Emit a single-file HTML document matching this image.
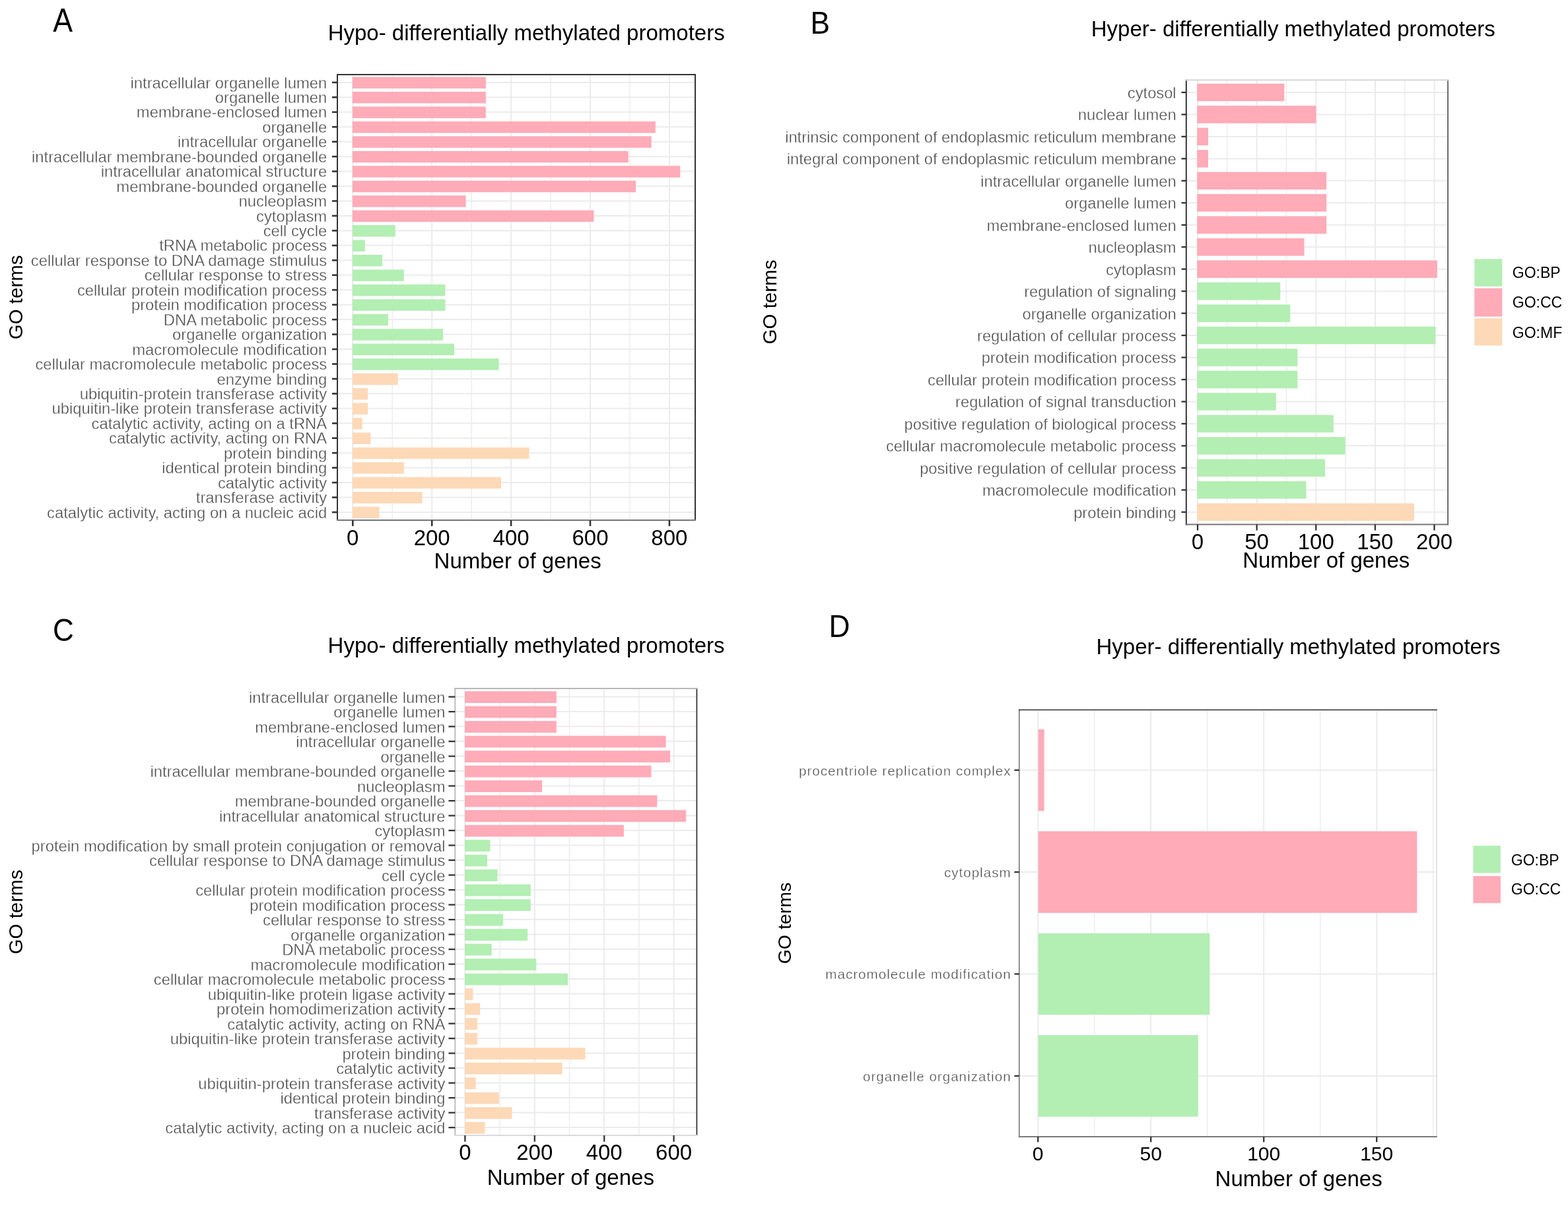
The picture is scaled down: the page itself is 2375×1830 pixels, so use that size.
<!DOCTYPE html>
<html><head><meta charset="utf-8"><title>GO enrichment of differentially methylated promoters</title>
<style>
html,body{margin:0;padding:0;background:#fff;}
svg{display:block;}
text{font-family:"Liberation Sans", Arial, Helvetica, sans-serif;}
text.l{stroke:#fff;stroke-width:0.35;stroke-linejoin:round;}
</style></head>
<body>
<svg width="2375" height="1830" viewBox="0 0 2375 1830">
<rect x="0" y="0" width="2375" height="1830" fill="#ffffff"/>
<g>
<line x1="594.25" y1="113.00" x2="594.25" y2="788.10" stroke="#EEEEEE" stroke-width="1.6"/>
<line x1="714.15" y1="113.00" x2="714.15" y2="788.10" stroke="#EEEEEE" stroke-width="1.6"/>
<line x1="834.05" y1="113.00" x2="834.05" y2="788.10" stroke="#EEEEEE" stroke-width="1.6"/>
<line x1="953.95" y1="113.00" x2="953.95" y2="788.10" stroke="#EEEEEE" stroke-width="1.6"/>
<line x1="534.30" y1="113.00" x2="534.30" y2="788.10" stroke="#EBEBEB" stroke-width="2"/>
<line x1="654.20" y1="113.00" x2="654.20" y2="788.10" stroke="#EBEBEB" stroke-width="2"/>
<line x1="774.10" y1="113.00" x2="774.10" y2="788.10" stroke="#EBEBEB" stroke-width="2"/>
<line x1="894.00" y1="113.00" x2="894.00" y2="788.10" stroke="#EBEBEB" stroke-width="2"/>
<line x1="1013.90" y1="113.00" x2="1013.90" y2="788.10" stroke="#EBEBEB" stroke-width="2"/>
<line x1="511.00" y1="124.90" x2="1053.00" y2="124.90" stroke="#EBEBEB" stroke-width="2"/>
<line x1="511.00" y1="147.35" x2="1053.00" y2="147.35" stroke="#EBEBEB" stroke-width="2"/>
<line x1="511.00" y1="169.80" x2="1053.00" y2="169.80" stroke="#EBEBEB" stroke-width="2"/>
<line x1="511.00" y1="192.25" x2="1053.00" y2="192.25" stroke="#EBEBEB" stroke-width="2"/>
<line x1="511.00" y1="214.70" x2="1053.00" y2="214.70" stroke="#EBEBEB" stroke-width="2"/>
<line x1="511.00" y1="237.15" x2="1053.00" y2="237.15" stroke="#EBEBEB" stroke-width="2"/>
<line x1="511.00" y1="259.60" x2="1053.00" y2="259.60" stroke="#EBEBEB" stroke-width="2"/>
<line x1="511.00" y1="282.05" x2="1053.00" y2="282.05" stroke="#EBEBEB" stroke-width="2"/>
<line x1="511.00" y1="304.50" x2="1053.00" y2="304.50" stroke="#EBEBEB" stroke-width="2"/>
<line x1="511.00" y1="326.95" x2="1053.00" y2="326.95" stroke="#EBEBEB" stroke-width="2"/>
<line x1="511.00" y1="349.40" x2="1053.00" y2="349.40" stroke="#EBEBEB" stroke-width="2"/>
<line x1="511.00" y1="371.85" x2="1053.00" y2="371.85" stroke="#EBEBEB" stroke-width="2"/>
<line x1="511.00" y1="394.30" x2="1053.00" y2="394.30" stroke="#EBEBEB" stroke-width="2"/>
<line x1="511.00" y1="416.75" x2="1053.00" y2="416.75" stroke="#EBEBEB" stroke-width="2"/>
<line x1="511.00" y1="439.20" x2="1053.00" y2="439.20" stroke="#EBEBEB" stroke-width="2"/>
<line x1="511.00" y1="461.65" x2="1053.00" y2="461.65" stroke="#EBEBEB" stroke-width="2"/>
<line x1="511.00" y1="484.10" x2="1053.00" y2="484.10" stroke="#EBEBEB" stroke-width="2"/>
<line x1="511.00" y1="506.55" x2="1053.00" y2="506.55" stroke="#EBEBEB" stroke-width="2"/>
<line x1="511.00" y1="529.00" x2="1053.00" y2="529.00" stroke="#EBEBEB" stroke-width="2"/>
<line x1="511.00" y1="551.45" x2="1053.00" y2="551.45" stroke="#EBEBEB" stroke-width="2"/>
<line x1="511.00" y1="573.90" x2="1053.00" y2="573.90" stroke="#EBEBEB" stroke-width="2"/>
<line x1="511.00" y1="596.35" x2="1053.00" y2="596.35" stroke="#EBEBEB" stroke-width="2"/>
<line x1="511.00" y1="618.80" x2="1053.00" y2="618.80" stroke="#EBEBEB" stroke-width="2"/>
<line x1="511.00" y1="641.25" x2="1053.00" y2="641.25" stroke="#EBEBEB" stroke-width="2"/>
<line x1="511.00" y1="663.70" x2="1053.00" y2="663.70" stroke="#EBEBEB" stroke-width="2"/>
<line x1="511.00" y1="686.15" x2="1053.00" y2="686.15" stroke="#EBEBEB" stroke-width="2"/>
<line x1="511.00" y1="708.60" x2="1053.00" y2="708.60" stroke="#EBEBEB" stroke-width="2"/>
<line x1="511.00" y1="731.05" x2="1053.00" y2="731.05" stroke="#EBEBEB" stroke-width="2"/>
<line x1="511.00" y1="753.50" x2="1053.00" y2="753.50" stroke="#EBEBEB" stroke-width="2"/>
<line x1="511.00" y1="775.95" x2="1053.00" y2="775.95" stroke="#EBEBEB" stroke-width="2"/>
<rect x="533.80" y="116.55" width="202.10" height="17.50" fill="#FFABB8"/>
<rect x="533.80" y="139.00" width="202.10" height="17.50" fill="#FFABB8"/>
<rect x="533.80" y="161.45" width="202.10" height="17.50" fill="#FFABB8"/>
<rect x="533.80" y="183.90" width="459.00" height="17.50" fill="#FFABB8"/>
<rect x="533.80" y="206.35" width="452.90" height="17.50" fill="#FFABB8"/>
<rect x="533.80" y="228.80" width="418.00" height="17.50" fill="#FFABB8"/>
<rect x="533.80" y="251.25" width="496.50" height="17.50" fill="#FFABB8"/>
<rect x="533.80" y="273.70" width="429.30" height="17.50" fill="#FFABB8"/>
<rect x="533.80" y="296.15" width="171.80" height="17.50" fill="#FFABB8"/>
<rect x="533.80" y="318.60" width="365.70" height="17.50" fill="#FFABB8"/>
<rect x="533.80" y="341.05" width="64.90" height="17.50" fill="#B3EEB3"/>
<rect x="533.80" y="363.50" width="19.00" height="17.50" fill="#B3EEB3"/>
<rect x="533.80" y="385.95" width="45.40" height="17.50" fill="#B3EEB3"/>
<rect x="533.80" y="408.40" width="78.00" height="17.50" fill="#B3EEB3"/>
<rect x="533.80" y="430.85" width="140.60" height="17.50" fill="#B3EEB3"/>
<rect x="533.80" y="453.30" width="140.60" height="17.50" fill="#B3EEB3"/>
<rect x="533.80" y="475.75" width="54.20" height="17.50" fill="#B3EEB3"/>
<rect x="533.80" y="498.20" width="137.20" height="17.50" fill="#B3EEB3"/>
<rect x="533.80" y="520.65" width="154.20" height="17.50" fill="#B3EEB3"/>
<rect x="533.80" y="543.10" width="221.80" height="17.50" fill="#B3EEB3"/>
<rect x="533.80" y="565.55" width="69.00" height="17.50" fill="#FDD9B8"/>
<rect x="533.80" y="588.00" width="23.40" height="17.50" fill="#FDD9B8"/>
<rect x="533.80" y="610.45" width="23.40" height="17.50" fill="#FDD9B8"/>
<rect x="533.80" y="632.90" width="14.90" height="17.50" fill="#FDD9B8"/>
<rect x="533.80" y="655.35" width="27.70" height="17.50" fill="#FDD9B8"/>
<rect x="533.80" y="677.80" width="267.70" height="17.50" fill="#FDD9B8"/>
<rect x="533.80" y="700.25" width="78.00" height="17.50" fill="#FDD9B8"/>
<rect x="533.80" y="722.70" width="225.20" height="17.50" fill="#FDD9B8"/>
<rect x="533.80" y="745.15" width="105.70" height="17.50" fill="#FDD9B8"/>
<rect x="533.80" y="767.60" width="40.80" height="17.50" fill="#FDD9B8"/>
<line x1="511.00" y1="112.00" x2="511.00" y2="789.10" stroke="#333333" stroke-width="2"/>
<line x1="1053.00" y1="112.00" x2="1053.00" y2="789.10" stroke="#333333" stroke-width="2"/>
<line x1="510.00" y1="113.00" x2="1054.00" y2="113.00" stroke="#333333" stroke-width="2"/>
<line x1="510.00" y1="788.10" x2="1054.00" y2="788.10" stroke="#777777" stroke-width="2"/>
<line x1="503.00" y1="124.90" x2="511.00" y2="124.90" stroke="#333333" stroke-width="2.6"/>
<text x="495.20" y="133.50" font-size="23.8" fill="#4D4D4D" text-anchor="end" class="l">intracellular organelle lumen</text>
<line x1="503.00" y1="147.35" x2="511.00" y2="147.35" stroke="#333333" stroke-width="2.6"/>
<text x="495.20" y="155.95" font-size="23.8" fill="#4D4D4D" text-anchor="end" class="l">organelle lumen</text>
<line x1="503.00" y1="169.80" x2="511.00" y2="169.80" stroke="#333333" stroke-width="2.6"/>
<text x="495.20" y="178.40" font-size="23.8" fill="#4D4D4D" text-anchor="end" class="l">membrane-enclosed lumen</text>
<line x1="503.00" y1="192.25" x2="511.00" y2="192.25" stroke="#333333" stroke-width="2.6"/>
<text x="495.20" y="200.85" font-size="23.8" fill="#4D4D4D" text-anchor="end" class="l">organelle</text>
<line x1="503.00" y1="214.70" x2="511.00" y2="214.70" stroke="#333333" stroke-width="2.6"/>
<text x="495.20" y="223.30" font-size="23.8" fill="#4D4D4D" text-anchor="end" class="l">intracellular organelle</text>
<line x1="503.00" y1="237.15" x2="511.00" y2="237.15" stroke="#333333" stroke-width="2.6"/>
<text x="495.20" y="245.75" font-size="23.8" fill="#4D4D4D" text-anchor="end" class="l">intracellular membrane-bounded organelle</text>
<line x1="503.00" y1="259.60" x2="511.00" y2="259.60" stroke="#333333" stroke-width="2.6"/>
<text x="495.20" y="268.20" font-size="23.8" fill="#4D4D4D" text-anchor="end" class="l">intracellular anatomical structure</text>
<line x1="503.00" y1="282.05" x2="511.00" y2="282.05" stroke="#333333" stroke-width="2.6"/>
<text x="495.20" y="290.65" font-size="23.8" fill="#4D4D4D" text-anchor="end" class="l">membrane-bounded organelle</text>
<line x1="503.00" y1="304.50" x2="511.00" y2="304.50" stroke="#333333" stroke-width="2.6"/>
<text x="495.20" y="313.10" font-size="23.8" fill="#4D4D4D" text-anchor="end" class="l">nucleoplasm</text>
<line x1="503.00" y1="326.95" x2="511.00" y2="326.95" stroke="#333333" stroke-width="2.6"/>
<text x="495.20" y="335.55" font-size="23.8" fill="#4D4D4D" text-anchor="end" class="l">cytoplasm</text>
<line x1="503.00" y1="349.40" x2="511.00" y2="349.40" stroke="#333333" stroke-width="2.6"/>
<text x="495.20" y="358.00" font-size="23.8" fill="#4D4D4D" text-anchor="end" class="l">cell cycle</text>
<line x1="503.00" y1="371.85" x2="511.00" y2="371.85" stroke="#333333" stroke-width="2.6"/>
<text x="495.20" y="380.45" font-size="23.8" fill="#4D4D4D" text-anchor="end" class="l">tRNA metabolic process</text>
<line x1="503.00" y1="394.30" x2="511.00" y2="394.30" stroke="#333333" stroke-width="2.6"/>
<text x="495.20" y="402.90" font-size="23.8" fill="#4D4D4D" text-anchor="end" class="l">cellular response to DNA damage stimulus</text>
<line x1="503.00" y1="416.75" x2="511.00" y2="416.75" stroke="#333333" stroke-width="2.6"/>
<text x="495.20" y="425.35" font-size="23.8" fill="#4D4D4D" text-anchor="end" class="l">cellular response to stress</text>
<line x1="503.00" y1="439.20" x2="511.00" y2="439.20" stroke="#333333" stroke-width="2.6"/>
<text x="495.20" y="447.80" font-size="23.8" fill="#4D4D4D" text-anchor="end" class="l">cellular protein modification process</text>
<line x1="503.00" y1="461.65" x2="511.00" y2="461.65" stroke="#333333" stroke-width="2.6"/>
<text x="495.20" y="470.25" font-size="23.8" fill="#4D4D4D" text-anchor="end" class="l">protein modification process</text>
<line x1="503.00" y1="484.10" x2="511.00" y2="484.10" stroke="#333333" stroke-width="2.6"/>
<text x="495.20" y="492.70" font-size="23.8" fill="#4D4D4D" text-anchor="end" class="l">DNA metabolic process</text>
<line x1="503.00" y1="506.55" x2="511.00" y2="506.55" stroke="#333333" stroke-width="2.6"/>
<text x="495.20" y="515.15" font-size="23.8" fill="#4D4D4D" text-anchor="end" class="l">organelle organization</text>
<line x1="503.00" y1="529.00" x2="511.00" y2="529.00" stroke="#333333" stroke-width="2.6"/>
<text x="495.20" y="537.60" font-size="23.8" fill="#4D4D4D" text-anchor="end" class="l">macromolecule modification</text>
<line x1="503.00" y1="551.45" x2="511.00" y2="551.45" stroke="#333333" stroke-width="2.6"/>
<text x="495.20" y="560.05" font-size="23.8" fill="#4D4D4D" text-anchor="end" class="l">cellular macromolecule metabolic process</text>
<line x1="503.00" y1="573.90" x2="511.00" y2="573.90" stroke="#333333" stroke-width="2.6"/>
<text x="495.20" y="582.50" font-size="23.8" fill="#4D4D4D" text-anchor="end" class="l">enzyme binding</text>
<line x1="503.00" y1="596.35" x2="511.00" y2="596.35" stroke="#333333" stroke-width="2.6"/>
<text x="495.20" y="604.95" font-size="23.8" fill="#4D4D4D" text-anchor="end" class="l">ubiquitin-protein transferase activity</text>
<line x1="503.00" y1="618.80" x2="511.00" y2="618.80" stroke="#333333" stroke-width="2.6"/>
<text x="495.20" y="627.40" font-size="23.8" fill="#4D4D4D" text-anchor="end" class="l">ubiquitin-like protein transferase activity</text>
<line x1="503.00" y1="641.25" x2="511.00" y2="641.25" stroke="#333333" stroke-width="2.6"/>
<text x="495.20" y="649.85" font-size="23.8" fill="#4D4D4D" text-anchor="end" class="l">catalytic activity, acting on a tRNA</text>
<line x1="503.00" y1="663.70" x2="511.00" y2="663.70" stroke="#333333" stroke-width="2.6"/>
<text x="495.20" y="672.30" font-size="23.8" fill="#4D4D4D" text-anchor="end" class="l">catalytic activity, acting on RNA</text>
<line x1="503.00" y1="686.15" x2="511.00" y2="686.15" stroke="#333333" stroke-width="2.6"/>
<text x="495.20" y="694.75" font-size="23.8" fill="#4D4D4D" text-anchor="end" class="l">protein binding</text>
<line x1="503.00" y1="708.60" x2="511.00" y2="708.60" stroke="#333333" stroke-width="2.6"/>
<text x="495.20" y="717.20" font-size="23.8" fill="#4D4D4D" text-anchor="end" class="l">identical protein binding</text>
<line x1="503.00" y1="731.05" x2="511.00" y2="731.05" stroke="#333333" stroke-width="2.6"/>
<text x="495.20" y="739.65" font-size="23.8" fill="#4D4D4D" text-anchor="end" class="l">catalytic activity</text>
<line x1="503.00" y1="753.50" x2="511.00" y2="753.50" stroke="#333333" stroke-width="2.6"/>
<text x="495.20" y="762.10" font-size="23.8" fill="#4D4D4D" text-anchor="end" class="l">transferase activity</text>
<line x1="503.00" y1="775.95" x2="511.00" y2="775.95" stroke="#333333" stroke-width="2.6"/>
<text x="495.20" y="784.55" font-size="23.8" fill="#4D4D4D" text-anchor="end" class="l">catalytic activity, acting on a nucleic acid</text>
<line x1="534.30" y1="788.10" x2="534.30" y2="797.00" stroke="#333333" stroke-width="2.6"/>
<text x="534.30" y="825.50" font-size="33" fill="#000" text-anchor="middle">0</text>
<line x1="654.20" y1="788.10" x2="654.20" y2="797.00" stroke="#333333" stroke-width="2.6"/>
<text x="654.20" y="825.50" font-size="33" fill="#000" text-anchor="middle">200</text>
<line x1="774.10" y1="788.10" x2="774.10" y2="797.00" stroke="#333333" stroke-width="2.6"/>
<text x="774.10" y="825.50" font-size="33" fill="#000" text-anchor="middle">400</text>
<line x1="894.00" y1="788.10" x2="894.00" y2="797.00" stroke="#333333" stroke-width="2.6"/>
<text x="894.00" y="825.50" font-size="33" fill="#000" text-anchor="middle">600</text>
<line x1="1013.90" y1="788.10" x2="1013.90" y2="797.00" stroke="#333333" stroke-width="2.6"/>
<text x="1013.90" y="825.50" font-size="33" fill="#000" text-anchor="middle">800</text>
<text x="657.56" y="860.50" font-size="33" fill="#000" text-anchor="start">Number of genes</text>
<text x="0" y="0" font-size="29.5" fill="#000" text-anchor="middle" transform="translate(33.70,450.30) rotate(-90)">GO terms</text>
<text x="496.66" y="61.20" font-size="33" fill="#000" text-anchor="start">Hypo- differentially methylated promoters</text>
<text x="0" y="0" font-size="50" fill="#000" transform="translate(80.30,48.30) scale(0.895,1)">A</text>
</g>
<g>
<line x1="1858.81" y1="121.20" x2="1858.81" y2="794.60" stroke="#EEEEEE" stroke-width="1.6"/>
<line x1="1948.44" y1="121.20" x2="1948.44" y2="794.60" stroke="#EEEEEE" stroke-width="1.6"/>
<line x1="2038.06" y1="121.20" x2="2038.06" y2="794.60" stroke="#EEEEEE" stroke-width="1.6"/>
<line x1="2127.69" y1="121.20" x2="2127.69" y2="794.60" stroke="#EEEEEE" stroke-width="1.6"/>
<line x1="1814.00" y1="121.20" x2="1814.00" y2="794.60" stroke="#EBEBEB" stroke-width="2"/>
<line x1="1903.62" y1="121.20" x2="1903.62" y2="794.60" stroke="#EBEBEB" stroke-width="2"/>
<line x1="1993.25" y1="121.20" x2="1993.25" y2="794.60" stroke="#EBEBEB" stroke-width="2"/>
<line x1="2082.88" y1="121.20" x2="2082.88" y2="794.60" stroke="#EBEBEB" stroke-width="2"/>
<line x1="2172.50" y1="121.20" x2="2172.50" y2="794.60" stroke="#EBEBEB" stroke-width="2"/>
<line x1="1796.80" y1="140.00" x2="2193.10" y2="140.00" stroke="#EBEBEB" stroke-width="2"/>
<line x1="1796.80" y1="173.46" x2="2193.10" y2="173.46" stroke="#EBEBEB" stroke-width="2"/>
<line x1="1796.80" y1="206.92" x2="2193.10" y2="206.92" stroke="#EBEBEB" stroke-width="2"/>
<line x1="1796.80" y1="240.38" x2="2193.10" y2="240.38" stroke="#EBEBEB" stroke-width="2"/>
<line x1="1796.80" y1="273.84" x2="2193.10" y2="273.84" stroke="#EBEBEB" stroke-width="2"/>
<line x1="1796.80" y1="307.30" x2="2193.10" y2="307.30" stroke="#EBEBEB" stroke-width="2"/>
<line x1="1796.80" y1="340.76" x2="2193.10" y2="340.76" stroke="#EBEBEB" stroke-width="2"/>
<line x1="1796.80" y1="374.22" x2="2193.10" y2="374.22" stroke="#EBEBEB" stroke-width="2"/>
<line x1="1796.80" y1="407.68" x2="2193.10" y2="407.68" stroke="#EBEBEB" stroke-width="2"/>
<line x1="1796.80" y1="441.14" x2="2193.10" y2="441.14" stroke="#EBEBEB" stroke-width="2"/>
<line x1="1796.80" y1="474.60" x2="2193.10" y2="474.60" stroke="#EBEBEB" stroke-width="2"/>
<line x1="1796.80" y1="508.06" x2="2193.10" y2="508.06" stroke="#EBEBEB" stroke-width="2"/>
<line x1="1796.80" y1="541.52" x2="2193.10" y2="541.52" stroke="#EBEBEB" stroke-width="2"/>
<line x1="1796.80" y1="574.98" x2="2193.10" y2="574.98" stroke="#EBEBEB" stroke-width="2"/>
<line x1="1796.80" y1="608.44" x2="2193.10" y2="608.44" stroke="#EBEBEB" stroke-width="2"/>
<line x1="1796.80" y1="641.90" x2="2193.10" y2="641.90" stroke="#EBEBEB" stroke-width="2"/>
<line x1="1796.80" y1="675.36" x2="2193.10" y2="675.36" stroke="#EBEBEB" stroke-width="2"/>
<line x1="1796.80" y1="708.82" x2="2193.10" y2="708.82" stroke="#EBEBEB" stroke-width="2"/>
<line x1="1796.80" y1="742.28" x2="2193.10" y2="742.28" stroke="#EBEBEB" stroke-width="2"/>
<line x1="1796.80" y1="775.74" x2="2193.10" y2="775.74" stroke="#EBEBEB" stroke-width="2"/>
<rect x="1813.20" y="126.70" width="132.10" height="26.60" fill="#FFABB8"/>
<rect x="1813.20" y="160.16" width="180.40" height="26.60" fill="#FFABB8"/>
<rect x="1813.20" y="193.62" width="16.80" height="26.60" fill="#FFABB8"/>
<rect x="1813.20" y="227.08" width="16.80" height="26.60" fill="#FFABB8"/>
<rect x="1813.20" y="260.54" width="195.90" height="26.60" fill="#FFABB8"/>
<rect x="1813.20" y="294.00" width="195.90" height="26.60" fill="#FFABB8"/>
<rect x="1813.20" y="327.46" width="195.90" height="26.60" fill="#FFABB8"/>
<rect x="1813.20" y="360.92" width="162.30" height="26.60" fill="#FFABB8"/>
<rect x="1813.20" y="394.38" width="363.70" height="26.60" fill="#FFABB8"/>
<rect x="1813.20" y="427.84" width="126.00" height="26.60" fill="#B3EEB3"/>
<rect x="1813.20" y="461.30" width="141.10" height="26.60" fill="#B3EEB3"/>
<rect x="1813.20" y="494.76" width="361.30" height="26.60" fill="#B3EEB3"/>
<rect x="1813.20" y="528.22" width="152.20" height="26.60" fill="#B3EEB3"/>
<rect x="1813.20" y="561.68" width="152.20" height="26.60" fill="#B3EEB3"/>
<rect x="1813.20" y="595.14" width="119.60" height="26.60" fill="#B3EEB3"/>
<rect x="1813.20" y="628.60" width="206.60" height="26.60" fill="#B3EEB3"/>
<rect x="1813.20" y="662.06" width="224.30" height="26.60" fill="#B3EEB3"/>
<rect x="1813.20" y="695.52" width="193.70" height="26.60" fill="#B3EEB3"/>
<rect x="1813.20" y="728.98" width="165.30" height="26.60" fill="#B3EEB3"/>
<rect x="1813.20" y="762.44" width="328.70" height="26.60" fill="#FDD9B8"/>
<line x1="1796.80" y1="120.20" x2="1796.80" y2="795.60" stroke="#333333" stroke-width="2"/>
<line x1="2193.10" y1="120.20" x2="2193.10" y2="795.60" stroke="#6A6A6A" stroke-width="2"/>
<line x1="1795.80" y1="121.20" x2="2194.10" y2="121.20" stroke="#D6D6D6" stroke-width="2"/>
<line x1="1795.80" y1="794.60" x2="2194.10" y2="794.60" stroke="#777777" stroke-width="2"/>
<line x1="1789.50" y1="140.00" x2="1796.80" y2="140.00" stroke="#333333" stroke-width="2.3"/>
<text x="1781.60" y="148.90" font-size="23.7" fill="#4D4D4D" text-anchor="end" class="l">cytosol</text>
<line x1="1789.50" y1="173.46" x2="1796.80" y2="173.46" stroke="#333333" stroke-width="2.3"/>
<text x="1781.60" y="182.36" font-size="23.7" fill="#4D4D4D" text-anchor="end" class="l">nuclear lumen</text>
<line x1="1789.50" y1="206.92" x2="1796.80" y2="206.92" stroke="#333333" stroke-width="2.3"/>
<text x="1781.60" y="215.82" font-size="23.7" fill="#4D4D4D" text-anchor="end" class="l">intrinsic component of endoplasmic reticulum membrane</text>
<line x1="1789.50" y1="240.38" x2="1796.80" y2="240.38" stroke="#333333" stroke-width="2.3"/>
<text x="1781.60" y="249.28" font-size="23.7" fill="#4D4D4D" text-anchor="end" class="l">integral component of endoplasmic reticulum membrane</text>
<line x1="1789.50" y1="273.84" x2="1796.80" y2="273.84" stroke="#333333" stroke-width="2.3"/>
<text x="1781.60" y="282.74" font-size="23.7" fill="#4D4D4D" text-anchor="end" class="l">intracellular organelle lumen</text>
<line x1="1789.50" y1="307.30" x2="1796.80" y2="307.30" stroke="#333333" stroke-width="2.3"/>
<text x="1781.60" y="316.20" font-size="23.7" fill="#4D4D4D" text-anchor="end" class="l">organelle lumen</text>
<line x1="1789.50" y1="340.76" x2="1796.80" y2="340.76" stroke="#333333" stroke-width="2.3"/>
<text x="1781.60" y="349.66" font-size="23.7" fill="#4D4D4D" text-anchor="end" class="l">membrane-enclosed lumen</text>
<line x1="1789.50" y1="374.22" x2="1796.80" y2="374.22" stroke="#333333" stroke-width="2.3"/>
<text x="1781.60" y="383.12" font-size="23.7" fill="#4D4D4D" text-anchor="end" class="l">nucleoplasm</text>
<line x1="1789.50" y1="407.68" x2="1796.80" y2="407.68" stroke="#333333" stroke-width="2.3"/>
<text x="1781.60" y="416.58" font-size="23.7" fill="#4D4D4D" text-anchor="end" class="l">cytoplasm</text>
<line x1="1789.50" y1="441.14" x2="1796.80" y2="441.14" stroke="#333333" stroke-width="2.3"/>
<text x="1781.60" y="450.04" font-size="23.7" fill="#4D4D4D" text-anchor="end" class="l">regulation of signaling</text>
<line x1="1789.50" y1="474.60" x2="1796.80" y2="474.60" stroke="#333333" stroke-width="2.3"/>
<text x="1781.60" y="483.50" font-size="23.7" fill="#4D4D4D" text-anchor="end" class="l">organelle organization</text>
<line x1="1789.50" y1="508.06" x2="1796.80" y2="508.06" stroke="#333333" stroke-width="2.3"/>
<text x="1781.60" y="516.96" font-size="23.7" fill="#4D4D4D" text-anchor="end" class="l">regulation of cellular process</text>
<line x1="1789.50" y1="541.52" x2="1796.80" y2="541.52" stroke="#333333" stroke-width="2.3"/>
<text x="1781.60" y="550.42" font-size="23.7" fill="#4D4D4D" text-anchor="end" class="l">protein modification process</text>
<line x1="1789.50" y1="574.98" x2="1796.80" y2="574.98" stroke="#333333" stroke-width="2.3"/>
<text x="1781.60" y="583.88" font-size="23.7" fill="#4D4D4D" text-anchor="end" class="l">cellular protein modification process</text>
<line x1="1789.50" y1="608.44" x2="1796.80" y2="608.44" stroke="#333333" stroke-width="2.3"/>
<text x="1781.60" y="617.34" font-size="23.7" fill="#4D4D4D" text-anchor="end" class="l">regulation of signal transduction</text>
<line x1="1789.50" y1="641.90" x2="1796.80" y2="641.90" stroke="#333333" stroke-width="2.3"/>
<text x="1781.60" y="650.80" font-size="23.7" fill="#4D4D4D" text-anchor="end" class="l">positive regulation of biological process</text>
<line x1="1789.50" y1="675.36" x2="1796.80" y2="675.36" stroke="#333333" stroke-width="2.3"/>
<text x="1781.60" y="684.26" font-size="23.7" fill="#4D4D4D" text-anchor="end" class="l">cellular macromolecule metabolic process</text>
<line x1="1789.50" y1="708.82" x2="1796.80" y2="708.82" stroke="#333333" stroke-width="2.3"/>
<text x="1781.60" y="717.72" font-size="23.7" fill="#4D4D4D" text-anchor="end" class="l">positive regulation of cellular process</text>
<line x1="1789.50" y1="742.28" x2="1796.80" y2="742.28" stroke="#333333" stroke-width="2.3"/>
<text x="1781.60" y="751.18" font-size="23.7" fill="#4D4D4D" text-anchor="end" class="l">macromolecule modification</text>
<line x1="1789.50" y1="775.74" x2="1796.80" y2="775.74" stroke="#333333" stroke-width="2.3"/>
<text x="1781.60" y="784.64" font-size="23.7" fill="#4D4D4D" text-anchor="end" class="l">protein binding</text>
<line x1="1814.00" y1="794.60" x2="1814.00" y2="803.50" stroke="#333333" stroke-width="2.3"/>
<text x="1814.00" y="832.00" font-size="33" fill="#000" text-anchor="middle">0</text>
<line x1="1903.62" y1="794.60" x2="1903.62" y2="803.50" stroke="#333333" stroke-width="2.3"/>
<text x="1903.62" y="832.00" font-size="33" fill="#000" text-anchor="middle">50</text>
<line x1="1993.25" y1="794.60" x2="1993.25" y2="803.50" stroke="#333333" stroke-width="2.3"/>
<text x="1993.25" y="832.00" font-size="33" fill="#000" text-anchor="middle">100</text>
<line x1="2082.88" y1="794.60" x2="2082.88" y2="803.50" stroke="#333333" stroke-width="2.3"/>
<text x="2082.88" y="832.00" font-size="33" fill="#000" text-anchor="middle">150</text>
<line x1="2172.50" y1="794.60" x2="2172.50" y2="803.50" stroke="#333333" stroke-width="2.3"/>
<text x="2172.50" y="832.00" font-size="33" fill="#000" text-anchor="middle">200</text>
<text x="1882.16" y="860.30" font-size="33" fill="#000" text-anchor="start">Number of genes</text>
<text x="0" y="0" font-size="29.5" fill="#000" text-anchor="middle" transform="translate(1176.10,457.50) rotate(-90)">GO terms</text>
<text x="1652.76" y="55.00" font-size="33" fill="#000" text-anchor="start">Hyper- differentially methylated promoters</text>
<text x="0" y="0" font-size="48" fill="#000" transform="translate(1227.57,50.60) scale(0.92,1)">B</text>
<rect x="2233.30" y="392.40" width="42.00" height="41.50" fill="#B3EEB3"/>
<text x="2290.85" y="420.50" font-size="23" fill="#000" text-anchor="start">GO:BP</text>
<rect x="2233.30" y="436.70" width="42.00" height="42.90" fill="#FFABB8"/>
<text x="2290.85" y="466.00" font-size="23" fill="#000" text-anchor="start">GO:CC</text>
<rect x="2233.30" y="482.20" width="42.00" height="41.20" fill="#FDD9B8"/>
<text x="2290.85" y="512.00" font-size="23" fill="#000" text-anchor="start">GO:MF</text>
</g>
<g>
<line x1="757.10" y1="1043.00" x2="757.10" y2="1720.00" stroke="#EEEEEE" stroke-width="1.6"/>
<line x1="862.50" y1="1043.00" x2="862.50" y2="1720.00" stroke="#EEEEEE" stroke-width="1.6"/>
<line x1="967.90" y1="1043.00" x2="967.90" y2="1720.00" stroke="#EEEEEE" stroke-width="1.6"/>
<line x1="704.40" y1="1043.00" x2="704.40" y2="1720.00" stroke="#EBEBEB" stroke-width="2"/>
<line x1="809.80" y1="1043.00" x2="809.80" y2="1720.00" stroke="#EBEBEB" stroke-width="2"/>
<line x1="915.20" y1="1043.00" x2="915.20" y2="1720.00" stroke="#EBEBEB" stroke-width="2"/>
<line x1="1020.60" y1="1043.00" x2="1020.60" y2="1720.00" stroke="#EBEBEB" stroke-width="2"/>
<line x1="689.30" y1="1055.60" x2="1055.40" y2="1055.60" stroke="#EBEBEB" stroke-width="2"/>
<line x1="689.30" y1="1078.10" x2="1055.40" y2="1078.10" stroke="#EBEBEB" stroke-width="2"/>
<line x1="689.30" y1="1100.60" x2="1055.40" y2="1100.60" stroke="#EBEBEB" stroke-width="2"/>
<line x1="689.30" y1="1123.10" x2="1055.40" y2="1123.10" stroke="#EBEBEB" stroke-width="2"/>
<line x1="689.30" y1="1145.60" x2="1055.40" y2="1145.60" stroke="#EBEBEB" stroke-width="2"/>
<line x1="689.30" y1="1168.10" x2="1055.40" y2="1168.10" stroke="#EBEBEB" stroke-width="2"/>
<line x1="689.30" y1="1190.60" x2="1055.40" y2="1190.60" stroke="#EBEBEB" stroke-width="2"/>
<line x1="689.30" y1="1213.10" x2="1055.40" y2="1213.10" stroke="#EBEBEB" stroke-width="2"/>
<line x1="689.30" y1="1235.60" x2="1055.40" y2="1235.60" stroke="#EBEBEB" stroke-width="2"/>
<line x1="689.30" y1="1258.10" x2="1055.40" y2="1258.10" stroke="#EBEBEB" stroke-width="2"/>
<line x1="689.30" y1="1280.60" x2="1055.40" y2="1280.60" stroke="#EBEBEB" stroke-width="2"/>
<line x1="689.30" y1="1303.10" x2="1055.40" y2="1303.10" stroke="#EBEBEB" stroke-width="2"/>
<line x1="689.30" y1="1325.60" x2="1055.40" y2="1325.60" stroke="#EBEBEB" stroke-width="2"/>
<line x1="689.30" y1="1348.10" x2="1055.40" y2="1348.10" stroke="#EBEBEB" stroke-width="2"/>
<line x1="689.30" y1="1370.60" x2="1055.40" y2="1370.60" stroke="#EBEBEB" stroke-width="2"/>
<line x1="689.30" y1="1393.10" x2="1055.40" y2="1393.10" stroke="#EBEBEB" stroke-width="2"/>
<line x1="689.30" y1="1415.60" x2="1055.40" y2="1415.60" stroke="#EBEBEB" stroke-width="2"/>
<line x1="689.30" y1="1438.10" x2="1055.40" y2="1438.10" stroke="#EBEBEB" stroke-width="2"/>
<line x1="689.30" y1="1460.60" x2="1055.40" y2="1460.60" stroke="#EBEBEB" stroke-width="2"/>
<line x1="689.30" y1="1483.10" x2="1055.40" y2="1483.10" stroke="#EBEBEB" stroke-width="2"/>
<line x1="689.30" y1="1505.60" x2="1055.40" y2="1505.60" stroke="#EBEBEB" stroke-width="2"/>
<line x1="689.30" y1="1528.10" x2="1055.40" y2="1528.10" stroke="#EBEBEB" stroke-width="2"/>
<line x1="689.30" y1="1550.60" x2="1055.40" y2="1550.60" stroke="#EBEBEB" stroke-width="2"/>
<line x1="689.30" y1="1573.10" x2="1055.40" y2="1573.10" stroke="#EBEBEB" stroke-width="2"/>
<line x1="689.30" y1="1595.60" x2="1055.40" y2="1595.60" stroke="#EBEBEB" stroke-width="2"/>
<line x1="689.30" y1="1618.10" x2="1055.40" y2="1618.10" stroke="#EBEBEB" stroke-width="2"/>
<line x1="689.30" y1="1640.60" x2="1055.40" y2="1640.60" stroke="#EBEBEB" stroke-width="2"/>
<line x1="689.30" y1="1663.10" x2="1055.40" y2="1663.10" stroke="#EBEBEB" stroke-width="2"/>
<line x1="689.30" y1="1685.60" x2="1055.40" y2="1685.60" stroke="#EBEBEB" stroke-width="2"/>
<line x1="689.30" y1="1708.10" x2="1055.40" y2="1708.10" stroke="#EBEBEB" stroke-width="2"/>
<rect x="704.00" y="1047.20" width="138.80" height="17.80" fill="#FFABB8"/>
<rect x="704.00" y="1069.70" width="138.80" height="17.80" fill="#FFABB8"/>
<rect x="704.00" y="1092.20" width="138.80" height="17.80" fill="#FFABB8"/>
<rect x="704.00" y="1114.70" width="304.60" height="17.80" fill="#FFABB8"/>
<rect x="704.00" y="1137.20" width="311.10" height="17.80" fill="#FFABB8"/>
<rect x="704.00" y="1159.70" width="282.50" height="17.80" fill="#FFABB8"/>
<rect x="704.00" y="1182.20" width="117.10" height="17.80" fill="#FFABB8"/>
<rect x="704.00" y="1204.70" width="291.40" height="17.80" fill="#FFABB8"/>
<rect x="704.00" y="1227.20" width="335.10" height="17.80" fill="#FFABB8"/>
<rect x="704.00" y="1249.70" width="240.80" height="17.80" fill="#FFABB8"/>
<rect x="704.00" y="1272.20" width="38.40" height="17.80" fill="#B3EEB3"/>
<rect x="704.00" y="1294.70" width="34.00" height="17.80" fill="#B3EEB3"/>
<rect x="704.00" y="1317.20" width="49.60" height="17.80" fill="#B3EEB3"/>
<rect x="704.00" y="1339.70" width="99.80" height="17.80" fill="#B3EEB3"/>
<rect x="704.00" y="1362.20" width="99.80" height="17.80" fill="#B3EEB3"/>
<rect x="704.00" y="1384.70" width="58.10" height="17.80" fill="#B3EEB3"/>
<rect x="704.00" y="1407.20" width="95.10" height="17.80" fill="#B3EEB3"/>
<rect x="704.00" y="1429.70" width="40.70" height="17.80" fill="#B3EEB3"/>
<rect x="704.00" y="1452.20" width="108.30" height="17.80" fill="#B3EEB3"/>
<rect x="704.00" y="1474.70" width="156.10" height="17.80" fill="#B3EEB3"/>
<rect x="704.00" y="1497.20" width="12.40" height="17.80" fill="#FDD9B8"/>
<rect x="704.00" y="1519.70" width="23.20" height="17.80" fill="#FDD9B8"/>
<rect x="704.00" y="1542.20" width="19.10" height="17.80" fill="#FDD9B8"/>
<rect x="704.00" y="1564.70" width="19.10" height="17.80" fill="#FDD9B8"/>
<rect x="704.00" y="1587.20" width="182.50" height="17.80" fill="#FDD9B8"/>
<rect x="704.00" y="1609.70" width="147.70" height="17.80" fill="#FDD9B8"/>
<rect x="704.00" y="1632.20" width="16.70" height="17.80" fill="#FDD9B8"/>
<rect x="704.00" y="1654.70" width="51.80" height="17.80" fill="#FDD9B8"/>
<rect x="704.00" y="1677.20" width="71.50" height="17.80" fill="#FDD9B8"/>
<rect x="704.00" y="1699.70" width="30.50" height="17.80" fill="#FDD9B8"/>
<line x1="689.30" y1="1042.10" x2="689.30" y2="1720.90" stroke="#B8B8B8" stroke-width="1.8"/>
<line x1="1055.40" y1="1042.10" x2="1055.40" y2="1720.90" stroke="#333333" stroke-width="1.8"/>
<line x1="688.40" y1="1043.00" x2="1056.30" y2="1043.00" stroke="#B8B8B8" stroke-width="1.8"/>
<line x1="688.40" y1="1720.00" x2="1056.30" y2="1720.00" stroke="#DADADA" stroke-width="1.8"/>
<line x1="679.40" y1="1055.60" x2="689.30" y2="1055.60" stroke="#333333" stroke-width="2.3"/>
<text x="674.50" y="1064.50" font-size="23.8" fill="#4D4D4D" text-anchor="end" class="l">intracellular organelle lumen</text>
<line x1="679.40" y1="1078.10" x2="689.30" y2="1078.10" stroke="#333333" stroke-width="2.3"/>
<text x="674.50" y="1087.00" font-size="23.8" fill="#4D4D4D" text-anchor="end" class="l">organelle lumen</text>
<line x1="679.40" y1="1100.60" x2="689.30" y2="1100.60" stroke="#333333" stroke-width="2.3"/>
<text x="674.50" y="1109.50" font-size="23.8" fill="#4D4D4D" text-anchor="end" class="l">membrane-enclosed lumen</text>
<line x1="679.40" y1="1123.10" x2="689.30" y2="1123.10" stroke="#333333" stroke-width="2.3"/>
<text x="674.50" y="1132.00" font-size="23.8" fill="#4D4D4D" text-anchor="end" class="l">intracellular organelle</text>
<line x1="679.40" y1="1145.60" x2="689.30" y2="1145.60" stroke="#333333" stroke-width="2.3"/>
<text x="674.50" y="1154.50" font-size="23.8" fill="#4D4D4D" text-anchor="end" class="l">organelle</text>
<line x1="679.40" y1="1168.10" x2="689.30" y2="1168.10" stroke="#333333" stroke-width="2.3"/>
<text x="674.50" y="1177.00" font-size="23.8" fill="#4D4D4D" text-anchor="end" class="l">intracellular membrane-bounded organelle</text>
<line x1="679.40" y1="1190.60" x2="689.30" y2="1190.60" stroke="#333333" stroke-width="2.3"/>
<text x="674.50" y="1199.50" font-size="23.8" fill="#4D4D4D" text-anchor="end" class="l">nucleoplasm</text>
<line x1="679.40" y1="1213.10" x2="689.30" y2="1213.10" stroke="#333333" stroke-width="2.3"/>
<text x="674.50" y="1222.00" font-size="23.8" fill="#4D4D4D" text-anchor="end" class="l">membrane-bounded organelle</text>
<line x1="679.40" y1="1235.60" x2="689.30" y2="1235.60" stroke="#333333" stroke-width="2.3"/>
<text x="674.50" y="1244.50" font-size="23.8" fill="#4D4D4D" text-anchor="end" class="l">intracellular anatomical structure</text>
<line x1="679.40" y1="1258.10" x2="689.30" y2="1258.10" stroke="#333333" stroke-width="2.3"/>
<text x="674.50" y="1267.00" font-size="23.8" fill="#4D4D4D" text-anchor="end" class="l">cytoplasm</text>
<line x1="679.40" y1="1280.60" x2="689.30" y2="1280.60" stroke="#333333" stroke-width="2.3"/>
<text x="674.50" y="1289.50" font-size="23.8" fill="#4D4D4D" text-anchor="end" class="l">protein modification by small protein conjugation or removal</text>
<line x1="679.40" y1="1303.10" x2="689.30" y2="1303.10" stroke="#333333" stroke-width="2.3"/>
<text x="674.50" y="1312.00" font-size="23.8" fill="#4D4D4D" text-anchor="end" class="l">cellular response to DNA damage stimulus</text>
<line x1="679.40" y1="1325.60" x2="689.30" y2="1325.60" stroke="#333333" stroke-width="2.3"/>
<text x="674.50" y="1334.50" font-size="23.8" fill="#4D4D4D" text-anchor="end" class="l">cell cycle</text>
<line x1="679.40" y1="1348.10" x2="689.30" y2="1348.10" stroke="#333333" stroke-width="2.3"/>
<text x="674.50" y="1357.00" font-size="23.8" fill="#4D4D4D" text-anchor="end" class="l">cellular protein modification process</text>
<line x1="679.40" y1="1370.60" x2="689.30" y2="1370.60" stroke="#333333" stroke-width="2.3"/>
<text x="674.50" y="1379.50" font-size="23.8" fill="#4D4D4D" text-anchor="end" class="l">protein modification process</text>
<line x1="679.40" y1="1393.10" x2="689.30" y2="1393.10" stroke="#333333" stroke-width="2.3"/>
<text x="674.50" y="1402.00" font-size="23.8" fill="#4D4D4D" text-anchor="end" class="l">cellular response to stress</text>
<line x1="679.40" y1="1415.60" x2="689.30" y2="1415.60" stroke="#333333" stroke-width="2.3"/>
<text x="674.50" y="1424.50" font-size="23.8" fill="#4D4D4D" text-anchor="end" class="l">organelle organization</text>
<line x1="679.40" y1="1438.10" x2="689.30" y2="1438.10" stroke="#333333" stroke-width="2.3"/>
<text x="674.50" y="1447.00" font-size="23.8" fill="#4D4D4D" text-anchor="end" class="l">DNA metabolic process</text>
<line x1="679.40" y1="1460.60" x2="689.30" y2="1460.60" stroke="#333333" stroke-width="2.3"/>
<text x="674.50" y="1469.50" font-size="23.8" fill="#4D4D4D" text-anchor="end" class="l">macromolecule modification</text>
<line x1="679.40" y1="1483.10" x2="689.30" y2="1483.10" stroke="#333333" stroke-width="2.3"/>
<text x="674.50" y="1492.00" font-size="23.8" fill="#4D4D4D" text-anchor="end" class="l">cellular macromolecule metabolic process</text>
<line x1="679.40" y1="1505.60" x2="689.30" y2="1505.60" stroke="#333333" stroke-width="2.3"/>
<text x="674.50" y="1514.50" font-size="23.8" fill="#4D4D4D" text-anchor="end" class="l">ubiquitin-like protein ligase activity</text>
<line x1="679.40" y1="1528.10" x2="689.30" y2="1528.10" stroke="#333333" stroke-width="2.3"/>
<text x="674.50" y="1537.00" font-size="23.8" fill="#4D4D4D" text-anchor="end" class="l">protein homodimerization activity</text>
<line x1="679.40" y1="1550.60" x2="689.30" y2="1550.60" stroke="#333333" stroke-width="2.3"/>
<text x="674.50" y="1559.50" font-size="23.8" fill="#4D4D4D" text-anchor="end" class="l">catalytic activity, acting on RNA</text>
<line x1="679.40" y1="1573.10" x2="689.30" y2="1573.10" stroke="#333333" stroke-width="2.3"/>
<text x="674.50" y="1582.00" font-size="23.8" fill="#4D4D4D" text-anchor="end" class="l">ubiquitin-like protein transferase activity</text>
<line x1="679.40" y1="1595.60" x2="689.30" y2="1595.60" stroke="#333333" stroke-width="2.3"/>
<text x="674.50" y="1604.50" font-size="23.8" fill="#4D4D4D" text-anchor="end" class="l">protein binding</text>
<line x1="679.40" y1="1618.10" x2="689.30" y2="1618.10" stroke="#333333" stroke-width="2.3"/>
<text x="674.50" y="1627.00" font-size="23.8" fill="#4D4D4D" text-anchor="end" class="l">catalytic activity</text>
<line x1="679.40" y1="1640.60" x2="689.30" y2="1640.60" stroke="#333333" stroke-width="2.3"/>
<text x="674.50" y="1649.50" font-size="23.8" fill="#4D4D4D" text-anchor="end" class="l">ubiquitin-protein transferase activity</text>
<line x1="679.40" y1="1663.10" x2="689.30" y2="1663.10" stroke="#333333" stroke-width="2.3"/>
<text x="674.50" y="1672.00" font-size="23.8" fill="#4D4D4D" text-anchor="end" class="l">identical protein binding</text>
<line x1="679.40" y1="1685.60" x2="689.30" y2="1685.60" stroke="#333333" stroke-width="2.3"/>
<text x="674.50" y="1694.50" font-size="23.8" fill="#4D4D4D" text-anchor="end" class="l">transferase activity</text>
<line x1="679.40" y1="1708.10" x2="689.30" y2="1708.10" stroke="#333333" stroke-width="2.3"/>
<text x="674.50" y="1717.00" font-size="23.8" fill="#4D4D4D" text-anchor="end" class="l">catalytic activity, acting on a nucleic acid</text>
<line x1="704.40" y1="1720.00" x2="704.40" y2="1729.60" stroke="#333333" stroke-width="2.3"/>
<text x="704.40" y="1757.00" font-size="33" fill="#000" text-anchor="middle">0</text>
<line x1="809.80" y1="1720.00" x2="809.80" y2="1729.60" stroke="#333333" stroke-width="2.3"/>
<text x="809.80" y="1757.00" font-size="33" fill="#000" text-anchor="middle">200</text>
<line x1="915.20" y1="1720.00" x2="915.20" y2="1729.60" stroke="#333333" stroke-width="2.3"/>
<text x="915.20" y="1757.00" font-size="33" fill="#000" text-anchor="middle">400</text>
<line x1="1020.60" y1="1720.00" x2="1020.60" y2="1729.60" stroke="#333333" stroke-width="2.3"/>
<text x="1020.60" y="1757.00" font-size="33" fill="#000" text-anchor="middle">600</text>
<text x="737.76" y="1794.60" font-size="33" fill="#000" text-anchor="start">Number of genes</text>
<text x="0" y="0" font-size="29.5" fill="#000" text-anchor="middle" transform="translate(33.70,1381.50) rotate(-90)">GO terms</text>
<text x="496.56" y="989.10" font-size="33" fill="#000" text-anchor="start">Hypo- differentially methylated promoters</text>
<text x="0" y="0" font-size="48" fill="#000" transform="translate(80.09,971.00) scale(0.92,1)">C</text>
</g>
<g>
<line x1="1657.70" y1="1075.40" x2="1657.70" y2="1722.00" stroke="#EEEEEE" stroke-width="1.6"/>
<line x1="1828.70" y1="1075.40" x2="1828.70" y2="1722.00" stroke="#EEEEEE" stroke-width="1.6"/>
<line x1="1999.70" y1="1075.40" x2="1999.70" y2="1722.00" stroke="#EEEEEE" stroke-width="1.6"/>
<line x1="2170.70" y1="1075.40" x2="2170.70" y2="1722.00" stroke="#EEEEEE" stroke-width="1.6"/>
<line x1="1572.20" y1="1075.40" x2="1572.20" y2="1722.00" stroke="#EBEBEB" stroke-width="2"/>
<line x1="1743.20" y1="1075.40" x2="1743.20" y2="1722.00" stroke="#EBEBEB" stroke-width="2"/>
<line x1="1914.20" y1="1075.40" x2="1914.20" y2="1722.00" stroke="#EBEBEB" stroke-width="2"/>
<line x1="2085.20" y1="1075.40" x2="2085.20" y2="1722.00" stroke="#EBEBEB" stroke-width="2"/>
<line x1="1543.80" y1="1166.70" x2="2175.90" y2="1166.70" stroke="#EBEBEB" stroke-width="2"/>
<line x1="1543.80" y1="1321.10" x2="2175.90" y2="1321.10" stroke="#EBEBEB" stroke-width="2"/>
<line x1="1543.80" y1="1475.50" x2="2175.90" y2="1475.50" stroke="#EBEBEB" stroke-width="2"/>
<line x1="1543.80" y1="1629.90" x2="2175.90" y2="1629.90" stroke="#EBEBEB" stroke-width="2"/>
<rect x="1572.60" y="1104.90" width="9.00" height="123.60" fill="#FFABB8"/>
<rect x="1572.60" y="1259.30" width="573.80" height="123.60" fill="#FFABB8"/>
<rect x="1572.60" y="1413.70" width="259.70" height="123.60" fill="#B3EEB3"/>
<rect x="1572.60" y="1568.10" width="242.20" height="123.60" fill="#B3EEB3"/>
<line x1="1543.80" y1="1074.50" x2="1543.80" y2="1722.90" stroke="#828282" stroke-width="1.8"/>
<line x1="2175.90" y1="1074.50" x2="2175.90" y2="1722.90" stroke="#DEDEDE" stroke-width="1.8"/>
<line x1="1542.90" y1="1075.40" x2="2176.80" y2="1075.40" stroke="#444444" stroke-width="1.8"/>
<line x1="1542.90" y1="1722.00" x2="2176.80" y2="1722.00" stroke="#7A7A7A" stroke-width="1.8"/>
<line x1="1536.40" y1="1166.70" x2="1543.80" y2="1166.70" stroke="#333333" stroke-width="2.3"/>
<text x="1531.60" y="1174.50" font-size="20.6" fill="#4D4D4D" text-anchor="end" letter-spacing="1.0" class="l">procentriole replication complex</text>
<line x1="1536.40" y1="1321.10" x2="1543.80" y2="1321.10" stroke="#333333" stroke-width="2.3"/>
<text x="1531.60" y="1328.90" font-size="20.6" fill="#4D4D4D" text-anchor="end" letter-spacing="1.0" class="l">cytoplasm</text>
<line x1="1536.40" y1="1475.50" x2="1543.80" y2="1475.50" stroke="#333333" stroke-width="2.3"/>
<text x="1531.60" y="1483.30" font-size="20.6" fill="#4D4D4D" text-anchor="end" letter-spacing="1.0" class="l">macromolecule modification</text>
<line x1="1536.40" y1="1629.90" x2="1543.80" y2="1629.90" stroke="#333333" stroke-width="2.3"/>
<text x="1531.60" y="1637.70" font-size="20.6" fill="#4D4D4D" text-anchor="end" letter-spacing="1.0" class="l">organelle organization</text>
<line x1="1572.20" y1="1722.00" x2="1572.20" y2="1730.20" stroke="#333333" stroke-width="2.3"/>
<text x="1572.20" y="1757.50" font-size="30" fill="#000" text-anchor="middle">0</text>
<line x1="1743.20" y1="1722.00" x2="1743.20" y2="1730.20" stroke="#333333" stroke-width="2.3"/>
<text x="1743.20" y="1757.50" font-size="30" fill="#000" text-anchor="middle">50</text>
<line x1="1914.20" y1="1722.00" x2="1914.20" y2="1730.20" stroke="#333333" stroke-width="2.3"/>
<text x="1914.20" y="1757.50" font-size="30" fill="#000" text-anchor="middle">100</text>
<line x1="2085.20" y1="1722.00" x2="2085.20" y2="1730.20" stroke="#333333" stroke-width="2.3"/>
<text x="2085.20" y="1757.50" font-size="30" fill="#000" text-anchor="middle">150</text>
<text x="1840.56" y="1797.20" font-size="33" fill="#000" text-anchor="start">Number of genes</text>
<text x="0" y="0" font-size="28.5" fill="#000" text-anchor="middle" transform="translate(1198.40,1398.60) rotate(-90)">GO terms</text>
<text x="1660.46" y="991.00" font-size="33" fill="#000" text-anchor="start">Hyper- differentially methylated promoters</text>
<text x="0" y="0" font-size="48" fill="#000" transform="translate(1255.47,964.50) scale(0.92,1)">D</text>
<rect x="2231.40" y="1281.20" width="41.50" height="41.30" fill="#B3EEB3"/>
<text x="2288.75" y="1311.30" font-size="23" fill="#000" text-anchor="start">GO:BP</text>
<rect x="2231.40" y="1327.10" width="41.50" height="41.10" fill="#FFABB8"/>
<text x="2288.75" y="1355.00" font-size="23" fill="#000" text-anchor="start">GO:CC</text>
</g>
</svg>
</body></html>
